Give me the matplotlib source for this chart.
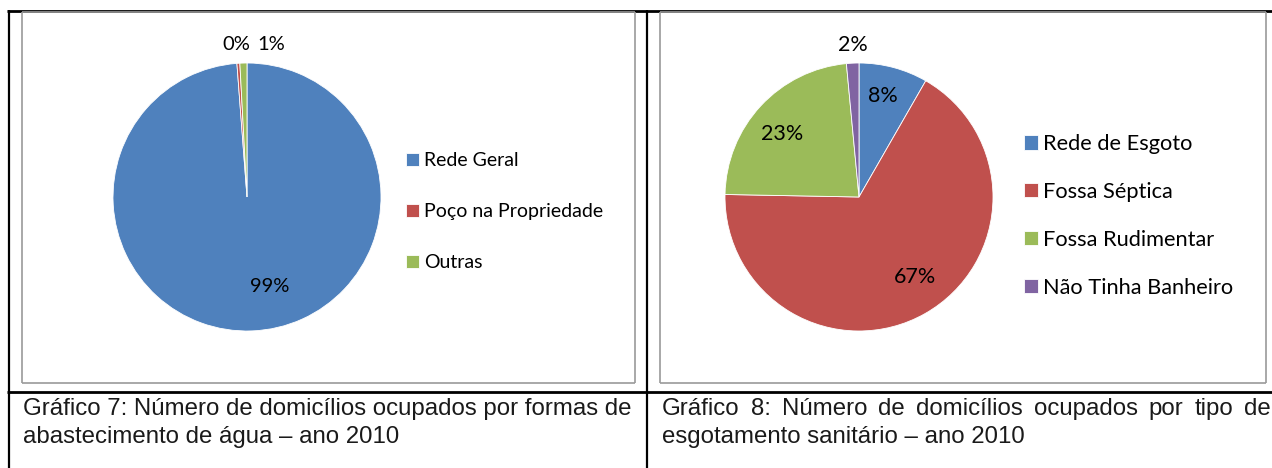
import matplotlib
matplotlib.use("Agg")
import matplotlib.pyplot as plt
from matplotlib.lines import Line2D

W, H = 1272, 468

# --- data ---
agua_labels = ["Rede Geral", "Poço na Propriedade", "Outras"]
agua_values = [98.8, 0.35, 0.85]

esgoto_labels = ["Rede de Esgoto", "Fossa Séptica", "Fossa Rudimentar", "Não Tinha Banheiro"]
esgoto_values = [8.3, 67.0, 23.2, 1.5]

colors = ["#4F81BD", "#C0504D", "#9BBB59", "#8064A2"]

caption1 = ["Gráfico 7: Número de domicílios ocupados por formas de",
            "abastecimento de água – ano 2010"]
caption2 = ["Gráfico 8: Número de domicílios ocupados por tipo de",
            "esgotamento sanitário – ano 2010"]

# label positions, in pie radius units
agua_label_pos = [(0.172, -0.669), (-0.082, 1.138), (0.179, 1.138)]
esgoto_label_pos = [(0.176, 0.754), (0.415, -0.595), (-0.57, 0.468), (-0.045, 1.138)]

CHART_FONT = "Lato"
CAP_FONT = "Liberation Sans"
CAP_SIZE = 17.3


def fx(x):
    return x / W


def fy(y):
    return 1 - y / H


fig = plt.figure(figsize=(W / 100, H / 100), dpi=100)


def hline(x0, x1, y, color="black", lw=1.6):
    fig.add_artist(Line2D([fx(x0), fx(x1)], [fy(y), fy(y)], color=color, lw=lw,
                          transform=fig.transFigure, solid_capstyle="butt"))


def vline(x, y0, y1, color="black", lw=1.6):
    fig.add_artist(Line2D([fx(x), fx(x)], [fy(y0), fy(y1)], color=color, lw=lw,
                          transform=fig.transFigure, solid_capstyle="butt"))


def gray_box(x0, y0, x1, y1):
    c = "#9a9a9a"
    hline(x0, x1, y0, c, 1.2)
    hline(x0, x1, y1, c, 1.2)
    vline(x0, y0, y1, c, 1.2)
    vline(x1, y0, y1, c, 1.2)


def draw_pie(cx, cy, r, values, labels, label_pos, leg_x, leg_y, spacing,
             pct_size, leg_size, handle):
    k = 1.3
    side = 2 * r * k
    ax = fig.add_axes([fx(cx - side / 2), fy(cy + side / 2), side / W, side / H])
    wedges, _, autotexts = ax.pie(values, colors=colors[:len(values)], startangle=90,
                                  counterclock=False, radius=1, autopct="%.0f%%",
                                  wedgeprops=dict(edgecolor="white", linewidth=0.6),
                                  textprops=dict(fontfamily=CHART_FONT, fontsize=pct_size))
    for t, (px, py) in zip(autotexts, label_pos):
        t.set_position((px, py))
        t.set_ha("center")
        t.set_va("center")
    ax.set_xlim(-k, k)
    ax.set_ylim(-k, k)
    ax.set_aspect("equal")
    ax.axis("off")
    fig.legend(wedges, labels, loc="upper left",
               bbox_to_anchor=(fx(leg_x), fy(leg_y)), frameon=False,
               prop=dict(family=CHART_FONT, size=leg_size), handlelength=handle,
               handleheight=handle, handletextpad=0.25, labelspacing=spacing,
               borderpad=0, borderaxespad=0)


def justified(words_line, x0, x1, y, renderer):
    words = words_line.split(" ")
    texts = [fig.text(0, fy(y), w, fontfamily=CAP_FONT, fontsize=CAP_SIZE, color="#1a1a1a")
             for w in words]
    widths = [t.get_window_extent(renderer).width for t in texts]
    gap = (x1 - x0 - sum(widths)) / (len(words) - 1)
    x = x0
    for t, w in zip(texts, widths):
        t.set_x(fx(x))
        x += w + gap


# table lines
hline(7, W, 11, lw=2)
vline(8.5, 10, H)
vline(646.5, 10, H)
hline(7, W, 392, lw=2)

gray_box(22, 12, 635, 383)
gray_box(660, 12, 1266, 383)

draw_pie(247, 197, 134, agua_values, agua_labels, agua_label_pos, 406, 152, 1.76,
         14.5, 14, 0.66)
draw_pie(859, 197, 134, esgoto_values, esgoto_labels, esgoto_label_pos, 1024, 134, 1.28,
         15.5, 15.7, 0.64)

# captions
fig.text(fx(23), fy(415), caption1[0], fontfamily=CAP_FONT, fontsize=CAP_SIZE, color="#1a1a1a")
fig.text(fx(23), fy(443), caption1[1], fontfamily=CAP_FONT, fontsize=CAP_SIZE, color="#1a1a1a")
renderer = fig.canvas.get_renderer()
justified(caption2[0], 662, 1271, 415, renderer)
fig.text(fx(662), fy(443), caption2[1], fontfamily=CAP_FONT, fontsize=CAP_SIZE, color="#1a1a1a")

fig.savefig("out.png", dpi=100)
